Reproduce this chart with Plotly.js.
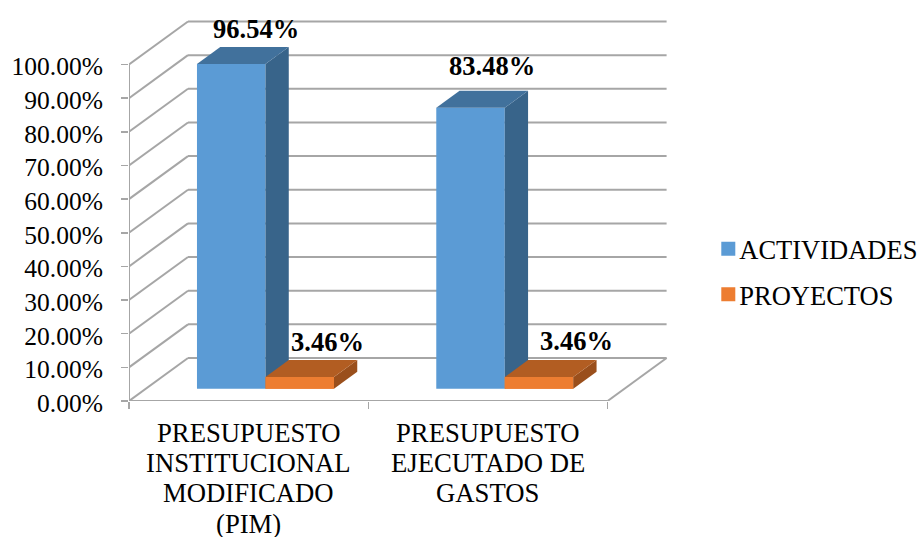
<!DOCTYPE html>
<html>
<head>
<meta charset="utf-8">
<script src="https://cdn.plot.ly/plotly-3.0.1.min.js"></script>
<style>html,body{margin:0;padding:0;background:#fff}#chart{width:919px;height:537px}</style>
</head>
<body>
<div id="chart"></div>
<script>
// Budget execution shares by category
const categories = [
  ['PRESUPUESTO', 'INSTITUCIONAL', 'MODIFICADO', '(PIM)'],
  ['PRESUPUESTO', 'EJECUTADO DE', 'GASTOS']
];
const actividades = [96.54, 83.48];
const proyectos = [3.46, 3.46];
const percentTicks = [0, 10, 20, 30, 40, 50, 60, 70, 80, 90, 100];

// Pixel offsets of the value labels relative to each bar's front top centre
const actividadesNudge = [[25, -35], [21, -42]];
const proyectosNudge = [[28, -35], [37.5, -36]];

// Axis scales and oblique projection of the depth direction
const pxPerCat = 239.3, pxPerPct = 3.365;
const plotLeft = 129, plotRight = 675, plotBottom = 401;
const depthX = 59 / pxPerCat, depthY = 43 / pxPerPct;
const barFront = 0.285, barBack = 0.68, barWidth = 68.5 / pxPerCat;
const grid = '#a6a6a6', gridWidth = 2;

const px = (c, d) => c + d * depthX;
const py = (v, d) => v + d * depthY;
const centers = categories.map((_, i) => i + 0.5);

function face(xs, ys, color) {
  return {type: 'scatter', mode: 'lines', x: xs, y: ys, fill: 'toself', fillcolor: color,
          line: {width: 0, color: color}, hoverinfo: 'skip', showlegend: false};
}
function sideFace(left, v, color) {
  const r = left + barWidth;
  return face([px(r, barFront), px(r, barBack), px(r, barBack), px(r, barFront), px(r, barFront)],
              [py(0, barFront), py(0, barBack), py(v, barBack), py(v, barFront), py(0, barFront)], color);
}
function topFace(left, v, color) {
  const r = left + barWidth;
  return face([px(left, barFront), px(r, barFront), px(r, barBack), px(left, barBack), px(left, barFront)],
              [py(v, barFront), py(v, barFront), py(v, barBack), py(v, barBack), py(v, barFront)], color);
}
function frontFace(left, v, color) {
  const r = left + barWidth;
  return face([px(left, barFront), px(r, barFront), px(r, barFront), px(left, barFront), px(left, barFront)],
              [py(0, barFront), py(0, barFront), py(v, barFront), py(v, barFront), py(0, barFront)], color);
}

const colors = {
  a: {front: '#5b9bd5', top: '#41719c', side: '#38648a'},
  p: {front: '#ed7d31', top: '#b25d22', side: '#9a4f1c'}
};

const barX = centers.map(c => px(c, barFront));
const traces = [
  {type: 'bar', name: 'ACTIVIDADES', legendgroup: 'a', x: barX, y: actividades, base: py(0, barFront), width: barWidth,
   offset: -barWidth, marker: {color: colors.a.front, line: {width: 0}}, hoverinfo: 'skip'},
  {type: 'bar', name: 'PROYECTOS', legendgroup: 'p', x: barX, y: proyectos, base: py(0, barFront), width: barWidth,
   offset: 0, marker: {color: colors.p.front, line: {width: 0}}, hoverinfo: 'skip'}
];
centers.forEach((c, i) => {
  traces.push(sideFace(c - barWidth, actividades[i], colors.a.side));
  traces.push(topFace(c - barWidth, actividades[i], colors.a.top));
  traces.push(frontFace(c, proyectos[i], colors.p.front));
  traces.push(sideFace(c, proyectos[i], colors.p.side));
  traces.push(topFace(c, proyectos[i], colors.p.top));
});

// Walls and floor sit beneath the bars
const nCats = categories.length;
function seg(x0, y0, x1, y1) {
  return {type: 'line', xref: 'x', yref: 'y', layer: 'below', x0, y0, x1, y1,
          line: {color: grid, width: gridWidth}};
}
const shapes = [];
percentTicks.forEach(v => {
  shapes.push(seg(0, v, px(0, 1), py(v, 1)));
  shapes.push(seg(px(0, 1), py(v, 1), px(nCats, 1), py(v, 1)));
});
shapes.push(seg(0, 0, 0, 100));
shapes.push(seg(0, 0, nCats, 0));
shapes.push(seg(nCats, 0, px(nCats, 1), py(0, 1)));

const labelFont = {family: 'Liberation Serif', size: 26.5, color: '#000000'};
function valueLabel(c, v, nudge) {
  return {x: px(c, barFront), y: py(v, barFront), xref: 'x', yref: 'y', showarrow: false,
          text: '<b>' + v.toFixed(2) + '%</b>', font: labelFont,
          xshift: nudge[0], yshift: -nudge[1], xanchor: 'center', yanchor: 'middle'};
}
const annotations = [];
centers.forEach((c, i) => {
  annotations.push(valueLabel(c - barWidth / 2, actividades[i], actividadesNudge[i]));
  annotations.push(valueLabel(c + barWidth / 2, proyectos[i], proyectosNudge[i]));
});

// Category captions, one annotation per line for a tight line pitch
const catFont = {family: 'Liberation Serif', size: 26.7, color: '#000000'};
const catFirstLine = -32, catPitch = 30.2;
categories.forEach((lines, i) => {
  lines.forEach((text, n) => {
    annotations.push({x: centers[i], y: 0, xref: 'x', yref: 'y', showarrow: false, text, font: catFont,
                      xanchor: 'center', yanchor: 'middle', yshift: catFirstLine - n * catPitch});
  });
});

const tickFont = {family: 'Liberation Serif', size: 25.5, color: '#000000'};
const layout = {
  width: 919, height: 537,
  margin: {l: plotLeft, r: 919 - plotRight, t: 0, b: 537 - plotBottom, pad: 0, autoexpand: false},
  paper_bgcolor: '#ffffff', plot_bgcolor: '#ffffff',
  barmode: 'overlay',
  xaxis: {
    type: 'linear', range: [0, (plotRight - plotLeft) / pxPerCat], fixedrange: true,
    showgrid: false, zeroline: false, showline: false,
    tickmode: 'array', tickvals: [0, 1, 2], ticks: 'outside', ticklen: 7, tickwidth: 1.5, tickcolor: grid,
    showticklabels: false
  },
  yaxis: {
    range: [0, plotBottom / pxPerPct], fixedrange: true,
    showgrid: false, zeroline: false, showline: false,
    tickmode: 'array', tickvals: percentTicks, ticktext: percentTicks.map(v => v.toFixed(2) + '%'),
    ticks: 'outside', ticklen: 7, tickwidth: 1.5, tickcolor: grid,
    ticklabelstandoff: 13, ticklabelshift: 2, tickfont: tickFont
  },
  legend: {
    x: 1.0445, xanchor: 'left', y: 0.3226, yanchor: 'middle',
    font: {family: 'Liberation Serif', size: 26.5, color: '#000000'},
    bgcolor: 'rgba(0,0,0,0)', tracegroupgap: 8, itemwidth: 30
  },
  shapes, annotations
};

Plotly.newPlot('chart', traces, layout, {displayModeBar: false, staticPlot: true}).then(gd => {
  // Tighten the legend keys against their labels
  gd.querySelectorAll('.legend .legendpoints path').forEach(p => {
    p.setAttribute('transform', (p.getAttribute('transform') || '') + ' translate(9,0) scale(1.1667)');
  });
});
</script>
</body>
</html>
